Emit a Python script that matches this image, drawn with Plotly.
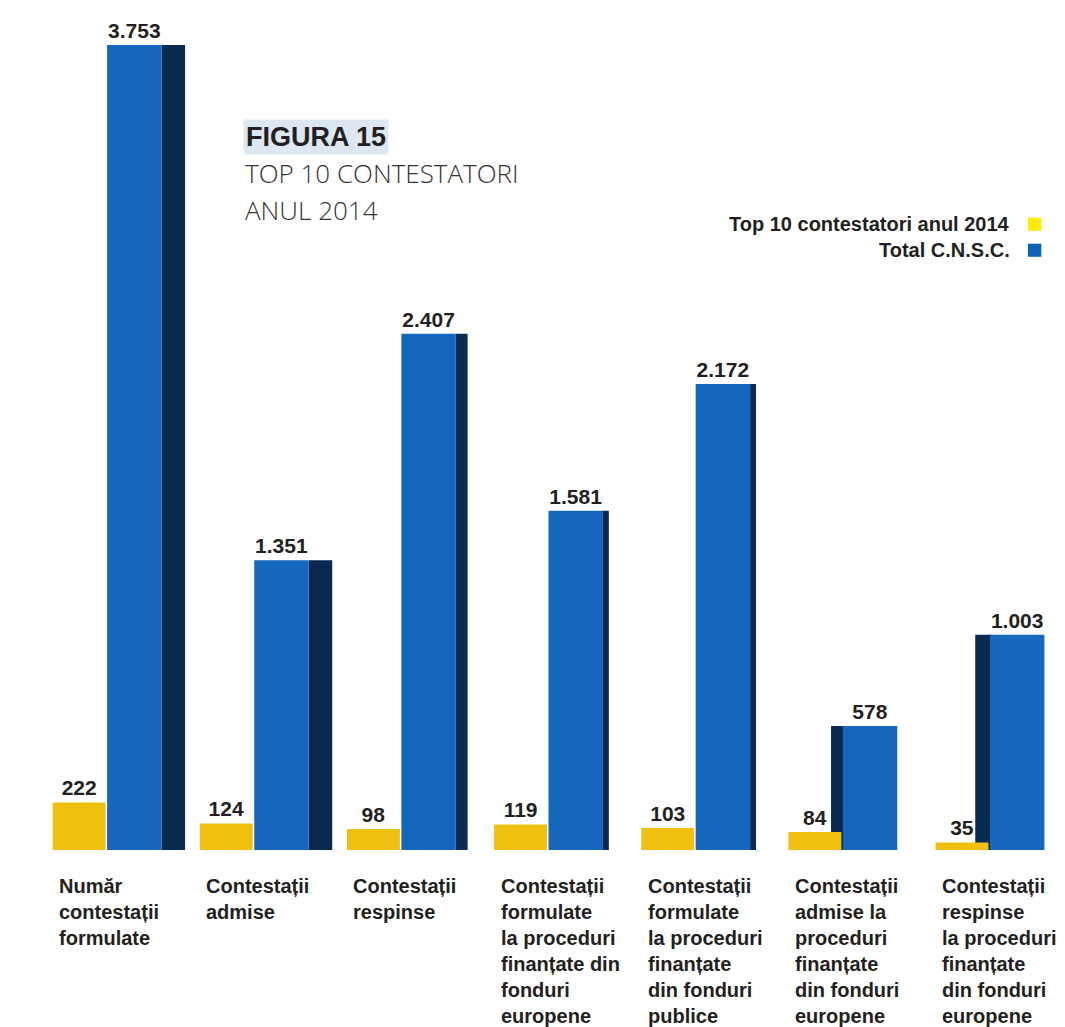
import plotly.graph_objects as go

# Categories (label lines) and the two series
categories = [
    "Număr\ncontestații\nformulate",
    "Contestații\nadmise",
    "Contestații\nrespinse",
    "Contestații\nformulate\nla proceduri\nfinanțate din\nfonduri\neuropene",
    "Contestații\nformulate\nla proceduri\nfinanțate\ndin fonduri\npublice",
    "Contestații\nadmise la\nproceduri\nfinanțate\ndin fonduri\neuropene",
    "Contestații\nrespinse\nla proceduri\nfinanțate\ndin fonduri\neuropene",
]
top10_2014 = [222, 124, 98, 119, 103, 84, 35]
total_cnsc = [3753, 1351, 2407, 1581, 2172, 578, 1003]

series_names = ["Top 10 contestatori anul 2014", "Total C.N.S.C."]

YELLOW = "#f0c010"
YELLOW_LEG = "#ffec00"
BLUE = "#1467bd"
BLUE_LEG = "#0a63b3"
BLUE_SIDE = "#0b2a50"
TEXT = "#231f20"
FONT = "Liberation Sans, Arial, sans-serif"
LIGHT_FONT = "Open Sans, Roboto, sans-serif"

xs = list(range(len(categories)))

# Shaded side faces of the blue columns (right side for the first five, left for the last two)
side_offset = [0.36, 0.36, 0.36, 0.36, 0.36, -0.09, -0.11]
side_width = [0.16, 0.16, 0.08, 0.04, 0.04, 0.09, 0.11]

fig = go.Figure()

fig.add_trace(go.Bar(
    x=xs, y=total_cnsc, offset=side_offset, width=side_width,
    marker=dict(color=BLUE_SIDE, line=dict(width=0)),
    showlegend=False, hoverinfo="skip",
))
fig.add_trace(go.Bar(
    x=xs, y=total_cnsc, offset=-0.01, width=0.37, name=series_names[1],
    marker=dict(color=BLUE, line=dict(width=0)),
    texttemplate="%{y:,}", textposition="outside", cliponaxis=False,
    textfont=dict(family=FONT, size=21, color=TEXT, weight="bold"),
    showlegend=False,
))
fig.add_trace(go.Bar(
    x=xs, y=top10_2014, offset=-0.38, width=0.36, name=series_names[0],
    marker=dict(color=YELLOW, line=dict(width=0)),
    texttemplate="%{y:,}", textposition="outside", cliponaxis=False,
    textfont=dict(family=FONT, size=21, color=TEXT, weight="bold"),
    showlegend=False,
))

annotations = []
# Category labels under each group, left aligned
for i, cat in enumerate(categories):
    annotations.append(dict(
        x=i - 0.35, xref="x", y=-0.027, yref="paper",
        xanchor="left", yanchor="top", align="left",
        text=cat.replace("\n", "<br>"), showarrow=False,
        font=dict(family=FONT, size=20, color=TEXT, weight="bold"),
    ))

# Title block
annotations.append(dict(
    x=0.202, xref="paper", y=0.849, yref="paper", xanchor="left", yanchor="middle",
    text="FIGURA 15", showarrow=False, bgcolor="#dde6f3", borderpad=2,
    font=dict(family=FONT, size=27, color=TEXT, weight="bold"),
))
annotations.append(dict(
    x=0.202, xref="paper", y=0.806, yref="paper", xanchor="left", yanchor="middle",
    text="TOP 10 CONTESTATORI", showarrow=False,
    font=dict(family=LIGHT_FONT, size=26, color="#333333", weight=300),
))
annotations.append(dict(
    x=0.202, xref="paper", y=0.762, yref="paper", xanchor="left", yanchor="middle",
    text="ANUL 2014", showarrow=False,
    font=dict(family=LIGHT_FONT, size=26, color="#333333", weight=300),
))

# Legend: labels right-aligned, swatch on the right
legend_rows = [(series_names[0], YELLOW_LEG, 0.745), (series_names[1], BLUE_LEG, 0.714)]
shapes = []
for name, color, yy in legend_rows:
    annotations.append(dict(
        x=0.9485, xref="paper", y=yy, yref="paper", xanchor="right", yanchor="middle",
        text=name, showarrow=False,
        font=dict(family=FONT, size=20, color=TEXT, weight="bold"),
    ))
    shapes.append(dict(
        type="rect", xref="paper", yref="paper",
        x0=0.964, x1=0.977, y0=yy - 0.0078, y1=yy + 0.0078,
        fillcolor=color, line=dict(width=0),
    ))

fig.update_layout(
    width=1065, height=1027,
    margin=dict(l=35, r=0, t=10, b=177),
    paper_bgcolor="white", plot_bgcolor="white",
    barmode="overlay",
    separators=",.",
    xaxis=dict(range=[-0.5, 6.5], visible=False, fixedrange=True),
    yaxis=dict(range=[0, 3916], visible=False, fixedrange=True),
    annotations=annotations, shapes=shapes,
    showlegend=False,
)

fig.write_html("out.html")
